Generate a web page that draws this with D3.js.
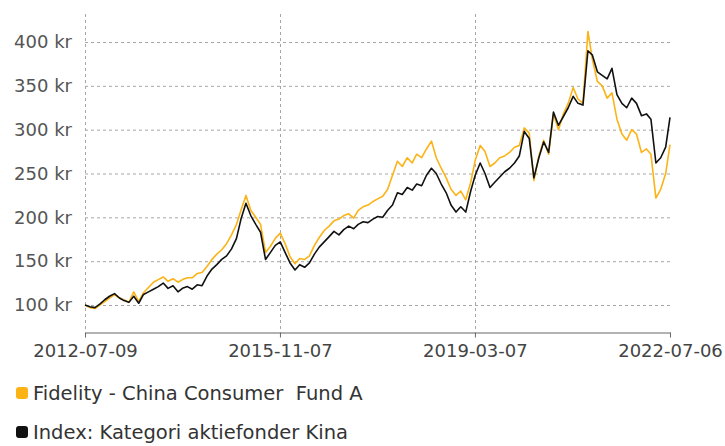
<!DOCTYPE html>
<html>
<head>
<meta charset="utf-8">
<script src="https://cdn.jsdelivr.net/npm/d3@7"></script>
<style>
  body { margin: 0; background: #fff; }
  svg text { font-family: "DejaVu Sans", sans-serif; }
</style>
</head>
<body>
<script>
// data, one point per month from 2012-07-09
var startDate = "2012-07-09";
var endDate = "2022-07-06";

var fundValues = [
  100, 97, 96, 100, 104, 108, 112, 108, 106, 103,
  115, 104, 114, 120, 126, 129, 132, 127, 130, 126,
  129, 131, 131, 136, 137, 144, 152, 158, 163, 170,
  180, 192, 208, 225, 208, 200, 192, 160, 167, 176,
  182, 170, 155, 147, 153, 152, 156, 168, 177, 185,
  190, 196, 198, 202, 204, 199, 208, 212, 214, 218,
  221, 224, 232, 248, 264, 258, 268, 262, 272, 268,
  278, 287, 268, 256, 245, 232, 225, 230, 220, 240,
  265, 282, 275, 258, 262, 268, 270, 274, 280, 282,
  302, 296, 242, 270, 288, 272, 318, 300, 318, 330,
  348, 335, 330, 412, 380, 355, 350, 336, 342, 312,
  295, 288, 300, 295, 274, 278, 272, 222, 232, 250,
  283
];

var indexValues = [
  100, 98, 97, 101, 106, 110, 113, 108, 105, 103,
  110, 102, 112, 115, 118, 121, 125, 119, 122, 115,
  119, 121, 118, 123, 122, 133, 141, 146, 152, 156,
  164, 176, 198, 216, 202, 192, 183, 152, 160, 168,
  172, 160, 148, 140, 146, 143, 148, 158, 166, 172,
  178, 184, 180, 186, 190, 187, 192, 195, 194, 198,
  201, 200, 208, 214, 228, 226, 234, 231, 238, 236,
  248, 256, 250, 238, 228, 214, 206, 212, 206, 230,
  248, 262, 250, 234, 240, 246, 252, 256, 262, 270,
  298, 290, 245, 268, 286, 274, 320, 305, 315, 325,
  338, 330, 328, 390, 385, 366, 362, 358, 370, 340,
  330, 325, 336, 330, 316, 318, 312, 262, 268, 280,
  314
];

var yTicks = [100, 150, 200, 250, 300, 350, 400];
var xTickLabels = ["2012-07-09", "2015-11-07", "2019-03-07", "2022-07-06"];

var seriesNames = ["Fidelity - China Consumer  Fund A", "Index: Kategori aktiefonder Kina"];
var seriesColors = ["#fbb316", "#111111"];

var parse = d3.timeParse("%Y-%m-%d");
var t0 = parse(startDate), t1 = parse(endDate);
var dates = fundValues.map(function(v, i) {
  var d = d3.timeMonth.offset(t0, i);
  return d > t1 ? t1 : d;
});

var width = 725, height = 446;
var plotLeft = 85, plotRight = 670, plotTop = 14, plotBottom = 332;

var x = d3.scaleTime().domain([t0, t1]).range([plotLeft, plotRight]);
var y = d3.scaleLinear().domain([100, 400]).range([305, 42]);

var svg = d3.select("body").append("svg")
    .attr("width", width)
    .attr("height", height);

// horizontal grid
svg.append("g")
  .selectAll("line")
  .data(yTicks)
  .enter().append("line")
    .attr("x1", plotLeft).attr("x2", plotRight)
    .attr("y1", function(d) { return y(d) + 0.5; })
    .attr("y2", function(d) { return y(d) + 0.5; })
    .attr("stroke", "#a6a6a6")
    .attr("stroke-dasharray", "3,3");

// vertical grid
var xTickDates = xTickLabels.map(parse);
svg.append("g")
  .selectAll("line")
  .data(xTickDates.slice(0, 3))
  .enter().append("line")
    .attr("x1", function(d) { return Math.round(x(d)) + 0.5; })
    .attr("x2", function(d) { return Math.round(x(d)) + 0.5; })
    .attr("y1", plotTop).attr("y2", plotBottom)
    .attr("stroke", "#a6a6a6")
    .attr("stroke-dasharray", "3,3");

// y labels
svg.append("g")
  .selectAll("text")
  .data(yTicks)
  .enter().append("text")
    .attr("x", 72)
    .attr("y", function(d) { return y(d); })
    .attr("dy", "0.35em")
    .attr("text-anchor", "end")
    .attr("font-size", 18)
    .attr("fill", "#555")
    .text(function(d) { return d + " kr"; });

// x axis
var xAxis = svg.append("g")
    .attr("transform", "translate(0," + (plotBottom + 0.5) + ")")
    .call(d3.axisBottom(x).tickValues(xTickDates)
      .tickFormat(function(d, i) { return xTickLabels[i]; })
      .tickSize(5).tickSizeOuter(0).tickPadding(7));
xAxis.select(".domain").attr("stroke", "#666");
xAxis.selectAll(".tick line").attr("stroke", "#666");
xAxis.selectAll(".tick text")
    .attr("font-size", 18)
    .attr("font-family", "'DejaVu Sans', sans-serif")
    .attr("fill", "#444");

// lines
var line = d3.line()
    .x(function(d) { return x(d[0]); })
    .y(function(d) { return y(d[1]); });

[fundValues, indexValues].forEach(function(vals, k) {
  svg.append("path")
    .datum(vals.map(function(v, i) { return [dates[i], v]; }))
    .attr("fill", "none")
    .attr("stroke", seriesColors[k])
    .attr("stroke-width", 1.6)
    .attr("stroke-linejoin", "round")
    .attr("d", line);
});

// legend
var legend = svg.append("g");
seriesNames.forEach(function(name, i) {
  var ly = 393 + i * 39;
  legend.append("rect")
    .attr("x", 16).attr("y", ly - 6)
    .attr("width", 12).attr("height", 12)
    .attr("rx", 3)
    .attr("fill", seriesColors[i]);
  legend.append("text")
    .attr("x", 33).attr("y", ly)
    .attr("dy", "0.35em")
    .attr("font-size", 19.5)
    .attr("fill", "#333")
    .style("white-space", "pre")
    .text(name);
});
</script>
</body>
</html>
